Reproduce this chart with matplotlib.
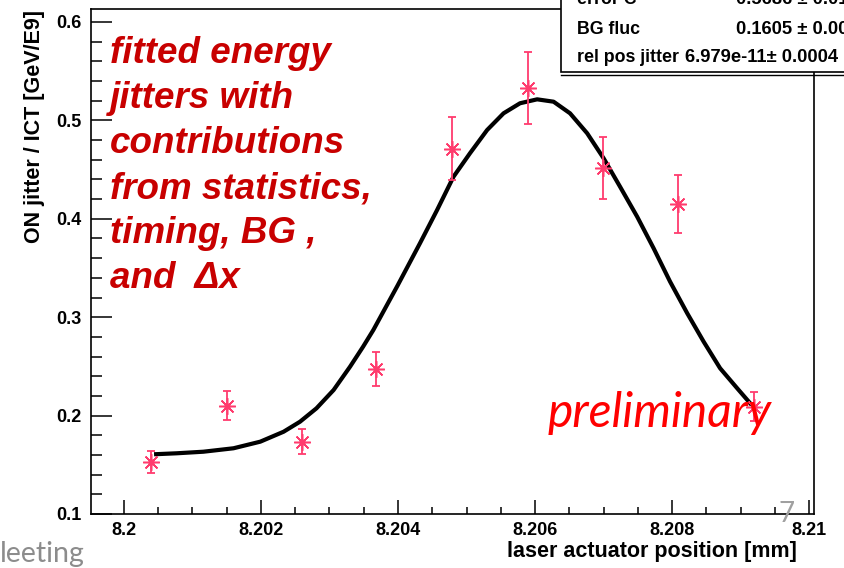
import numpy as np
import matplotlib
matplotlib.use("Agg")
import matplotlib.pyplot as plt
from matplotlib.ticker import MultipleLocator, FormatStrFormatter
from matplotlib.patches import Rectangle
from matplotlib.lines import Line2D

plt.rcParams['font.family'] = ['Liberation Sans', 'DejaVu Sans']

# measured points (laser position, ON jitter / ICT, error)
pos = [8.20039, 8.20150, 8.20260, 8.20368, 8.20479, 8.20589, 8.20699, 8.20808, 8.20919]
jitter = [0.1525, 0.2101, 0.1732, 0.2474, 0.4712, 0.5333, 0.4520, 0.4147, 0.2090]
err = [0.0112, 0.0144, 0.0127, 0.0175, 0.0320, 0.0365, 0.0316, 0.0295, 0.0147]

# fitted curve
fit_x = [8.20044, 8.20077, 8.20116, 8.20160, 8.20199, 8.20233, 8.20257, 8.20281,
         8.20306, 8.20330, 8.20349, 8.20364, 8.20399, 8.20432, 8.20457, 8.20481,
         8.20505, 8.20530, 8.20554, 8.20578, 8.20603, 8.20627, 8.20651, 8.20676,
         8.20700, 8.20724, 8.20749, 8.20773, 8.20797, 8.20822, 8.20846, 8.20870,
         8.20895, 8.20916]
fit_y = [0.1607, 0.1617, 0.1633, 0.1668, 0.1735, 0.1836, 0.1938, 0.2074,
         0.2260, 0.2497, 0.2700, 0.2870, 0.3317, 0.3751, 0.4089, 0.4428,
         0.4666, 0.4902, 0.5072, 0.5174, 0.5214, 0.5190, 0.5072, 0.4869,
         0.4615, 0.4326, 0.4021, 0.3700, 0.3361, 0.3040, 0.2751, 0.2481,
         0.2277, 0.2108]

stat_names = ['error C', 'BG fluc', 'rel pos jitter']
stat_values = ['0.5686 \u00b1 0.013', '0.1605 \u00b1 0.00', '6.979e-11\u00b1 0.0004']

note_lines = ['fitted energy', 'jitters with', 'contributions',
              'from statistics,', 'timing, BG ,', 'and  \u0394x']

W, H = 844, 568
fig = plt.figure(figsize=(W / 100, H / 100), dpi=100)


def fx(x):
    return x / W


def fy(y):
    return 1 - y / H


ax = fig.add_axes([fx(91), fy(514), fx(814) - fx(91), fy(9) - fy(514)])
ax.set_xlim(8.19952, 8.21007)
ax.set_ylim(0.1, 0.6132)

pink = '#ff3c6e'
ax.plot(fit_x, fit_y, color='black', lw=3.0, solid_capstyle='butt', zorder=3)
ax.errorbar(pos, jitter, yerr=err, fmt='none', ecolor=pink, elinewidth=1.3,
            capsize=3, capthick=1.3, zorder=4)
ax.plot(pos, jitter, ls='none', marker=(8, 2, 0), ms=12, mew=1.1,
        color=pink, zorder=5)
ax.plot(pos, jitter, ls='none', marker='o', ms=3.5, color=pink, zorder=5)

ax.xaxis.set_major_locator(MultipleLocator(0.002))
ax.xaxis.set_minor_locator(MultipleLocator(0.0005))
ax.yaxis.set_major_locator(MultipleLocator(0.1))
ax.yaxis.set_minor_locator(MultipleLocator(0.02))
ax.xaxis.set_major_formatter(plt.FuncFormatter(lambda v, p: ('%.3f' % v).rstrip('0')))
ax.yaxis.set_major_formatter(FormatStrFormatter('%.1f'))
ax.tick_params(axis='x', which='major', direction='in', length=10, width=1.1,
               pad=6, labelsize=13)
ax.tick_params(axis='x', which='minor', direction='in', length=5, width=1.1)
ax.tick_params(axis='y', which='major', direction='in', length=15, width=1.1,
               pad=7, labelsize=13)
ax.tick_params(axis='y', which='minor', direction='in', length=8, width=1.1)
for lab in ax.get_xticklabels() + ax.get_yticklabels():
    lab.set_fontweight('bold')
for s in ax.spines.values():
    s.set_linewidth(1.2)

# axis titles
fig.text(fx(797), fy(551), 'laser actuator position [mm]', ha='right', va='center',
         fontsize=15.5, fontweight='bold')
fig.text(fx(35), fy(10), 'ON jitter / ICT [GeV/E9]', ha='center', va='top',
         rotation=90, fontsize=15.5, fontweight='bold')

# red annotation
for i, line in enumerate(note_lines):
    fig.text(fx(110), fy(63 + 45 * i), line, ha='left', va='baseline',
             fontsize=26.5, fontweight='bold', fontstyle='italic', color='#c80000')

fig.text(fx(548), fy(427), 'preliminary', ha='left', va='baseline',
         fontsize=34.5, fontstyle='italic', color='#ff0000', family='Lato')

# stats box
fig.patches.append(Rectangle((fx(561), fy(72)), 1, 1, transform=fig.transFigure,
                             facecolor='white', edgecolor='black', lw=1.2, zorder=10))
fig.lines.append(Line2D([fx(561), 1], [fy(75), fy(75)], transform=fig.transFigure,
                        color='black', lw=1.0, zorder=10))
for i, (n, v) in enumerate(zip(stat_names, stat_values)):
    y = fy(0 + 29 * i)
    fig.text(fx(577), y, n, ha='left', va='center', fontsize=12.8,
             fontweight='bold', zorder=11)
    x0 = 685 if i == 2 else 736
    fig.text(fx(x0), y, v, ha='left', va='center', fontsize=13.2,
             fontweight='bold', zorder=11)

# slide leftovers
fig.text(fx(778), fy(522), '7', ha='left', va='baseline', fontsize=20,
         color='#a0a0a0', family='Lato')
fig.text(fx(0), fy(562), 'leeting', ha='left', va='baseline', fontsize=20.5,
         color='#8c8c8c', family='Lato')

fig.savefig('out.png', dpi=100)
